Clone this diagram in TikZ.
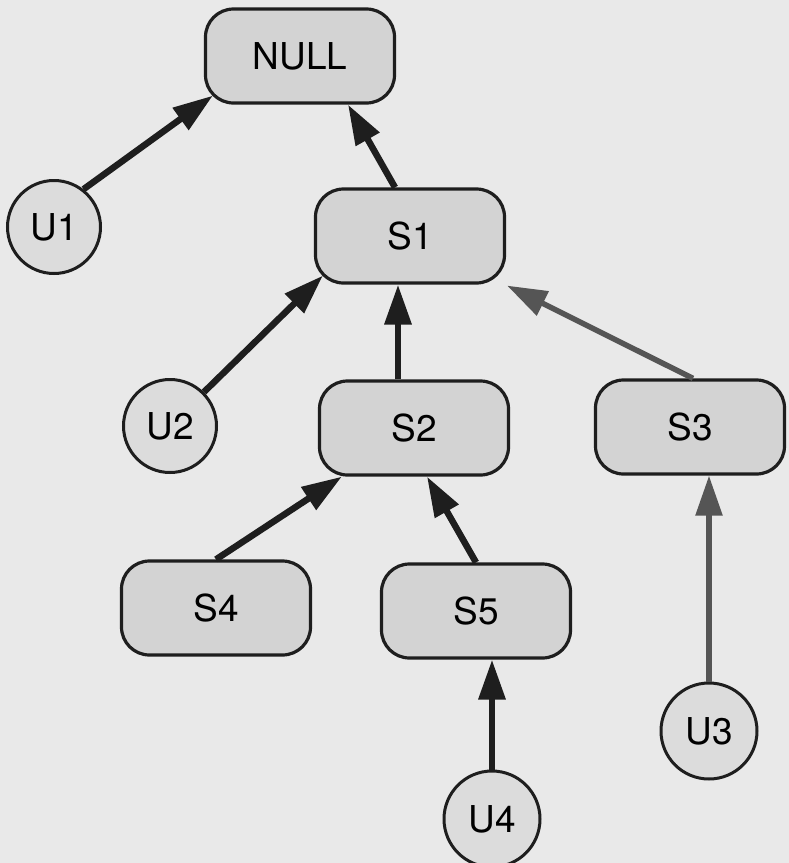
\documentclass[tikz,border=0pt]{standalone}
\usepackage{fontspec}
\setmainfont{TeX Gyre Heros}
\usetikzlibrary{arrows.meta,calc}
\definecolor{paper}{HTML}{E9E9E9}
\definecolor{boxfill}{HTML}{D3D3D3}
\definecolor{userfill}{HTML}{DCDCDC}
\definecolor{ink}{HTML}{1E1E1E}
\definecolor{fadedink}{HTML}{555555}
\begin{document}
\begin{tikzpicture}[x=1pt,y=-1pt,
  statebox/.style={draw=ink, line width=3.2pt, fill=boxfill, rounded corners=28pt,
    minimum width=189pt, minimum height=94pt, inner sep=0pt,
    font=\fontsize{37}{42}\selectfont},
  usernode/.style={circle, draw=ink, line width=3pt, fill=userfill,
    minimum size=93pt, inner sep=0pt, font=\fontsize{37}{42}\selectfont},
  link/.style={draw=ink, line width=6.5pt, -{Triangle[length=40pt,width=26pt]}},
  fadedlink/.style={link, draw=fadedink, line width=5.5pt},
]
% page background
\fill[paper] (0,0) rectangle (789,863);
\useasboundingbox (0,0) rectangle (789,863);

% state nodes
\node[statebox] (NULL) at (300,56) {NULL};
\node[statebox] (S1) at (410,236) {S1};
\node[statebox] (S2) at (414,428) {S2};
\node[statebox] (S3) at (690,427) {S3};
\node[statebox] (S4) at (216,608) {S4};
\node[statebox] (S5) at (476,611) {S5};

% user nodes
\node[usernode] (U1) at (54,227) {U1};
\node[usernode] (U2) at (170,426) {U2};
\node[usernode, minimum size=96pt] (U3) at (709,731) {U3};
\node[usernode, minimum size=96pt] (U4) at (492,819) {U4};

% links
\draw[link] (U1.52) -- ([shift={(9,-9)}]NULL.south west);
\draw[link] ([xshift=-15pt]S1.north) -- ([xshift=48pt]NULL.south);
\draw[link] (U2.45) -- ([shift={(9,-9)}]S1.south west);
\draw[link] ([xshift=-16pt]S2.north) -- ([xshift=-16pt]S2.north |- S1.south);
\draw[fadedlink] ([xshift=3pt]S3.north) -- ([shift={(1,1)}]S1.south east);
\draw[link] (S4.north) -- ([xshift=24pt]S2.south west);
\draw[link] (S5.north) -- ([xshift=13pt]S2.south);
\draw[fadedlink] (U3.north) -- (U3.north |- S3.south);
\draw[link] (U4.north) -- (U4.north |- S5.south);
\end{tikzpicture}
\end{document}
